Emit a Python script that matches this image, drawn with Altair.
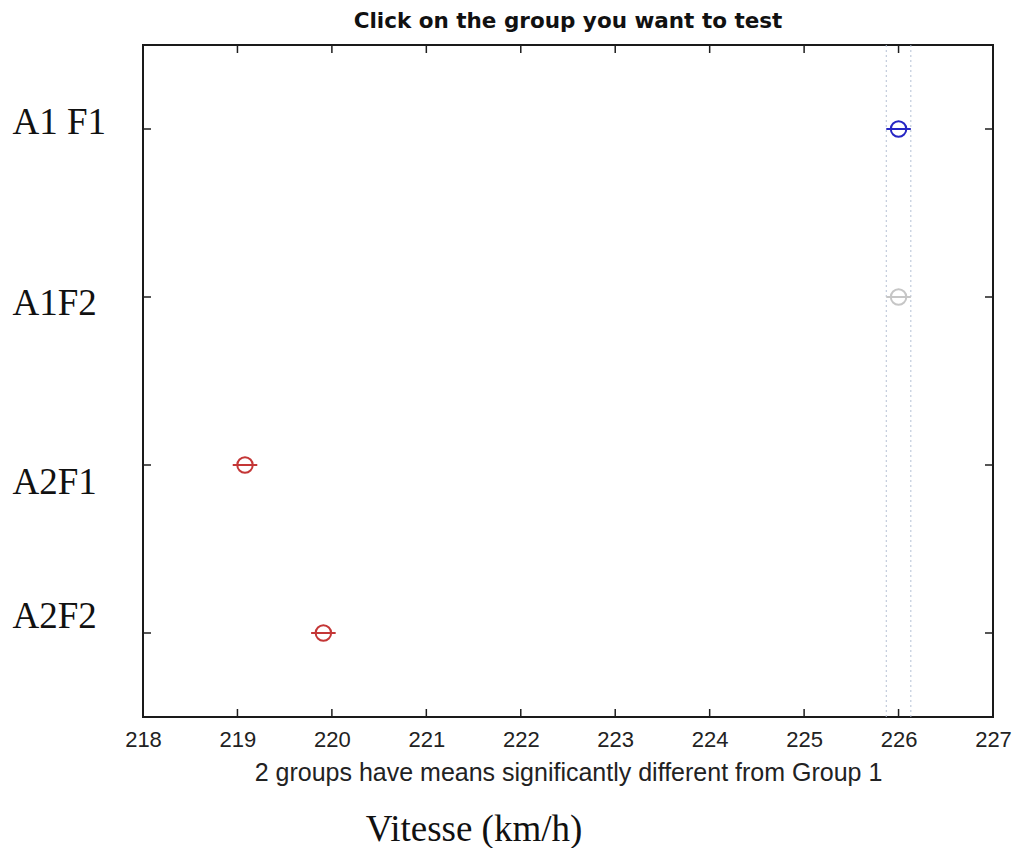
import altair as alt
import pandas as pd

# ---- data ----
groups = ["A1 F1", "A1F2", "A2F1", "A2F2"]
positions = [1, 2, 3, 4]
means = [226.0, 226.0, 219.08, 219.91]
half_widths = [0.13, 0.13, 0.13, 0.13]
status = ["Group 1", "Same", "Different", "Different"]
status_domain = ["Group 1", "Same", "Different"]
status_colors = ["#2626c4", "#c6c6c6", "#c43636"]
x_ticks = [218, 219, 220, 221, 222, 223, 224, 225, 226, 227]
ref_bounds = [225.87, 226.13]

title_text = "Click on the group you want to test"
x_title = "2 groups have means significantly different from Group 1"
x_label = "Vitesse (km/h)"

W, H = 850, 672

df = pd.DataFrame({
    "group": groups,
    "pos": positions,
    "mean": means,
    "lo": [m - h for m, h in zip(means, half_widths)],
    "hi": [m + h for m, h in zip(means, half_widths)],
    "status": status,
})
ticks_df = pd.DataFrame({"v": x_ticks[1:-1]})
bounds_df = pd.DataFrame({"b": ref_bounds})
label_df = pd.DataFrame({"t": [x_label]})

xs = alt.Scale(domain=[x_ticks[0], x_ticks[-1]], nice=False, zero=False)
ys = alt.Scale(domain=[0.5, len(groups) + 0.5], reverse=True, nice=False, zero=False)
cs = alt.Scale(domain=status_domain, range=status_colors)

label_expr = "[" + ",".join("'%s'" % g for g in groups) + "][datum.value - 1]"
# the pasted labels of the reference sit slightly off their ticks
label_offset = {
    "condition": [
        {"test": "datum.value == 1", "value": -7},
        {"test": "datum.value == 2", "value": 6},
        {"test": "datum.value == 3", "value": 17},
        {"test": "datum.value == 4", "value": -17},
    ],
    "value": 0,
}


def build(with_offset):
    x_axis = alt.Axis(
        values=x_ticks, ticks=False, domain=False, grid=False,
        labelFont="Liberation Sans", labelFontSize=22, labelColor="#222222",
        labelPadding=12, labelFlush=False,
        title=x_title, titleFont="Liberation Sans", titleFontSize=25,
        titleFontWeight="normal", titleColor="#222222", titlePadding=10,
    )
    yargs = dict(
        values=positions, ticks=False, domain=False, grid=False,
        labelExpr=label_expr, labelFont="Liberation Serif", labelFontSize=37,
        labelColor="#111111", labelAlign="left", labelPadding=131,
        labelBaseline="middle", title=None,
    )
    if with_offset:
        yargs["labelOffset"] = label_offset
    y_axis = alt.Axis(**yargs)

    X = lambda f: alt.X(f, scale=xs, axis=x_axis)
    Y = lambda f: alt.Y(f, scale=ys, axis=y_axis)

    rules = alt.Chart(bounds_df).mark_rule(
        color="#b4c0d4", strokeWidth=1, strokeDash=[2, 3]
    ).encode(x=X("b:Q"))

    intervals = alt.Chart(df).mark_rule(strokeWidth=2).encode(
        x=X("lo:Q"),
        x2="hi:Q",
        y=Y("pos:Q"),
        color=alt.Color("status:N", scale=cs, legend=None),
    )

    points = alt.Chart(df).mark_point(
        shape="circle", filled=False, size=240, strokeWidth=2, opacity=1
    ).encode(
        x=X("mean:Q"),
        y=Y("pos:Q"),
        color=alt.Color("status:N", scale=cs, legend=None),
    )

    tick_color = "#1e1e1e"
    top_ticks = alt.Chart(ticks_df).mark_rule(color=tick_color, strokeWidth=1.5).encode(
        x=X("v:Q"), y=alt.value(0), y2=alt.value(8))
    bottom_ticks = alt.Chart(ticks_df).mark_rule(color=tick_color, strokeWidth=1.5).encode(
        x=X("v:Q"), y=alt.value(H), y2=alt.value(H - 8))
    left_ticks = alt.Chart(df).mark_rule(color=tick_color, strokeWidth=1.5).encode(
        y=Y("pos:Q"), x=alt.value(0), x2=alt.value(8))
    right_ticks = alt.Chart(df).mark_rule(color=tick_color, strokeWidth=1.5).encode(
        y=Y("pos:Q"), x=alt.value(W), x2=alt.value(W - 8))

    xlabel_text = alt.Chart(label_df).mark_text(
        font="Liberation Serif", fontSize=37, color="#111111", baseline="middle", align="center"
    ).encode(text="t:N", x=alt.value(331), y=alt.value(785))

    return alt.layer(
        points, rules, intervals, top_ticks, bottom_ticks, left_ticks, right_ticks, xlabel_text
    ).properties(
        width=W, height=H,
        title=alt.TitleParams(title_text, font="DejaVu Sans", fontWeight="bold",
                              fontSize=21.5, color="#111111", offset=12, anchor="middle"),
        autosize=alt.AutoSizeParams(type="none"),
        padding={"left": 135, "top": 37, "right": 23, "bottom": 131},
    ).configure(
        background="white"
    ).configure_view(
        stroke="#1a1a1a", strokeWidth=2
    )


try:
    chart = build(True)
    chart.to_dict()
except Exception:
    chart = build(False)

chart.save("out.html", embed_options={"renderer": "svg", "actions": False})
